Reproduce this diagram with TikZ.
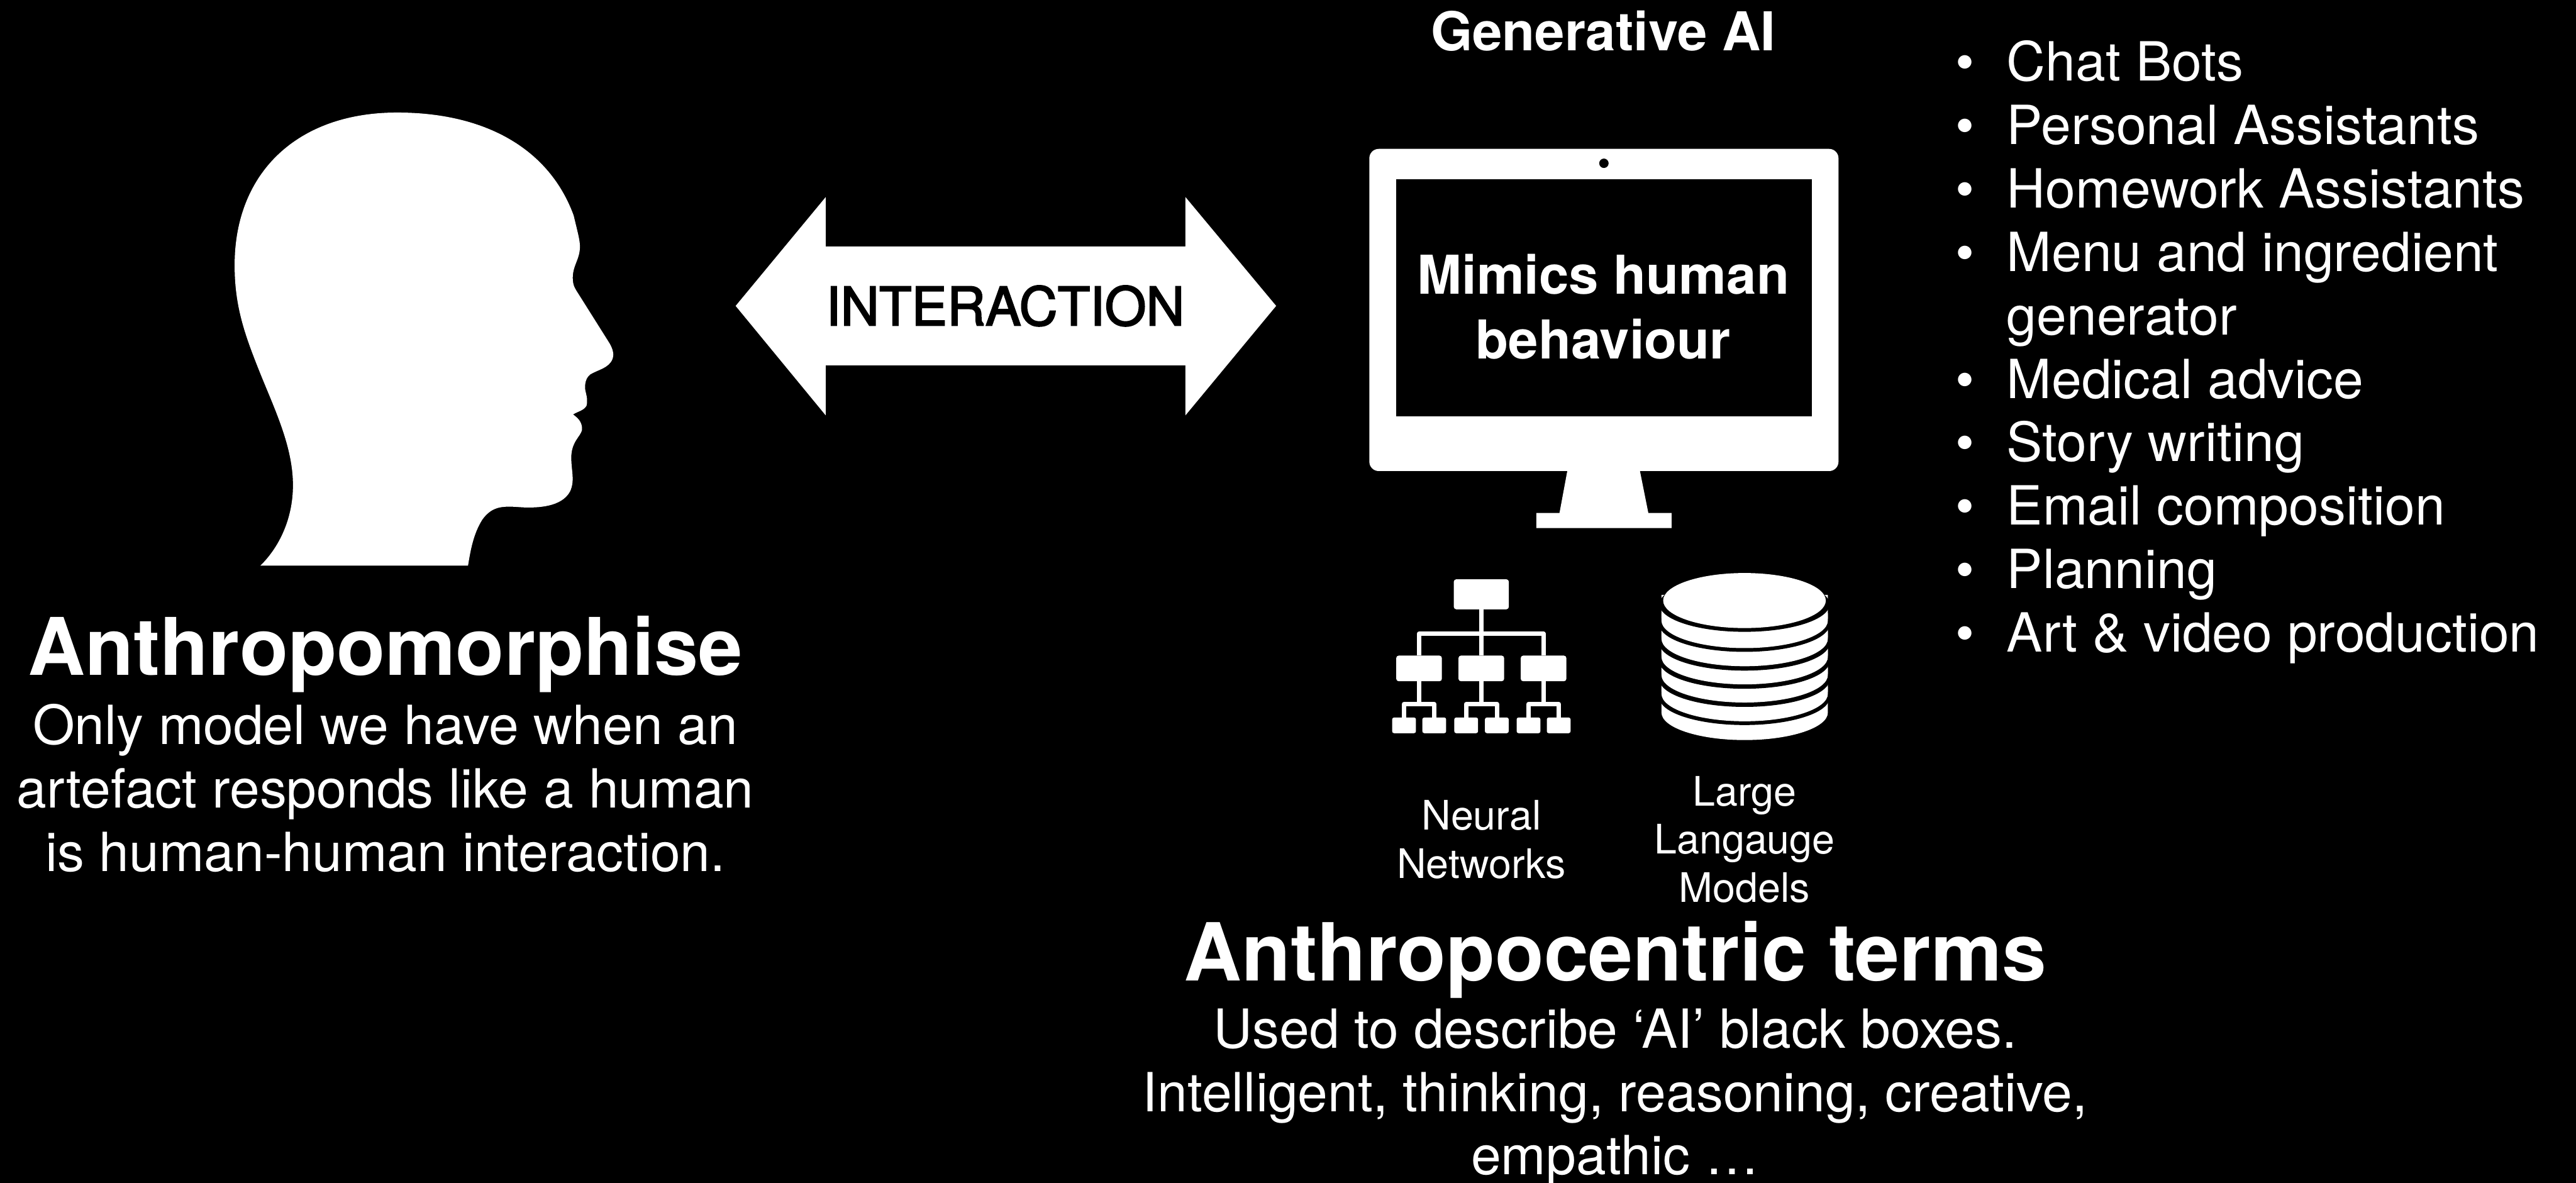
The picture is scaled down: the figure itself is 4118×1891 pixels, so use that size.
\documentclass[tikz,border=0pt]{standalone}
\usepackage{fontspec}
\setmainfont{TeX Gyre Heros}
\newfontfamily\medfont[FakeBold=2.5]{TeX Gyre Heros}
\tikzset{
  txt/.style={text=white,inner sep=0pt,outer sep=0pt,anchor=base,align=center},
  body/.style={txt,font=\fontsize{86.3}{101.4}\selectfont},
  bold/.style={txt,font=\fontsize{85.6}{104}\bfseries\selectfont},
  heading/.style={txt,font=\fontsize{127}{150}\bfseries\selectfont},
  small/.style={txt,font=\fontsize{65}{77}\selectfont},
  rootbox/.style={fill=white,rounded corners=4pt,inner sep=0pt,outer sep=0pt,minimum width=88pt,minimum height=48pt},
  midbox/.style={rootbox,minimum width=73pt,minimum height=41pt},
  leafbox/.style={rootbox,minimum width=38pt,minimum height=25pt,rounded corners=3pt},
  wire/.style={draw=white,line width=7pt},
}
\begin{document}
\begin{tikzpicture}[x=1pt,y=-1pt]
\fill[black] (0,0) rectangle (4118,1891);
\useasboundingbox (0,0) rectangle (4118,1891);
% head
\begin{scope}[shift={(300,150)},xscale=0.4783,yscale=0.4985]
\fill[white] (243,1513) .. controls (300,1460) and (352,1370) .. (352,1255)
 .. controls (352,1130) and (290,1010) .. (240,890)
 .. controls (190,770) and (157,680) .. (157,550)
 .. controls (157,250) and (370,60) .. (700,60)
 .. controls (1000,60) and (1210,180) .. (1290,390)
 .. controls (1305,450) and (1311,470) .. (1311,490)
 .. controls (1311,530) and (1287,550) .. (1287,590)
 .. controls (1287,615) and (1295,625) .. (1305,640)
 -- (1410,800)
 .. controls (1422,820) and (1425,835) .. (1420,850)
 .. controls (1408,880) and (1370,885) .. (1345,900)
 .. controls (1325,915) and (1327,945) .. (1330,955)
 .. controls (1335,975) and (1337,985) .. (1333,1000)
 .. controls (1325,1015) and (1305,1018) .. (1288,1028)
 .. controls (1300,1037) and (1320,1050) .. (1318,1078)
 .. controls (1312,1100) and (1283,1115) .. (1282,1165)
 .. controls (1282,1210) and (1295,1240) .. (1278,1275)
 .. controls (1250,1325) and (1170,1328) .. (1120,1326)
 .. controls (1060,1322) and (1020,1318) .. (985,1365)
 .. controls (955,1410) and (945,1465) .. (937,1513) -- cycle;
\end{scope}
% double arrow
\fill[white] (1176,489) -- (1320,315) -- (1320,394) -- (1895,394) -- (1895,315)
  -- (2040,489) -- (1895,664) -- (1895,584) -- (1320,584) -- (1320,664) -- cycle;
\node[txt,text=black,font=\fontsize{85}{100}\medfont] (interaction) at (1607,520) {INTERACTION};
% monitor
\fill[white,rounded corners=15pt] (2189,238) rectangle (2939,753);
\fill[black] (2232,287) rectangle (2896,666);
\fill[black] (2564,261) circle (7.5);
\fill[white] (2506,750) -- (2621,750) -- (2635,820) -- (2672,820) -- (2672,844) -- (2456,844) -- (2456,820) -- (2493,820) -- cycle;
\node[bold] (mimics) at (2563,574) {Mimics human\\behaviour};
\node[bold] (genai) at (2563,81) {Generative AI};
% network
\node[rootbox] (root) at (2368,950) {};
\foreach \n/\x in {m1/2268.5,m2/2368,m3/2467.5}
  \node[midbox] (\n) at (\x,1068.5) {};
\foreach \n/\x in {l1/2244.5,l2/2292.8,l3/2343.8,l4/2392.8,l5/2443.5,l6/2491.7}
  \node[leafbox] (\n) at (\x,1159.5) {};
\draw[wire] (root.south) -- (m2.north);
\coordinate (busa) at (2368,1013);
\coordinate (busb) at (2368,1125.5);
\draw[wire,line join=round] (m1.north) -- (m1.north |- busa) -- (m3.north |- busa) -- (m3.north);
\draw[wire] (m1.south) -- (m1.south |- busb);
\draw[wire] (m2.south) -- (m2.south |- busb);
\draw[wire] (m3.south) -- (m3.south |- busb);
\draw[wire,line join=round] (l1.north) -- (l1.north |- busb) -- (l2.north |- busb) -- (l2.north);
\draw[wire,line join=round] (l3.north) -- (l3.north |- busb) -- (l4.north |- busb) -- (l4.north);
\draw[wire,line join=round] (l5.north) -- (l5.north |- busb) -- (l6.north |- busb) -- (l6.north);
% database
\foreach \w/\k in {1183/1159,1153/1130,1123/1101,1094/1072,1065/1042,1036/1010}{
  \fill[white] (2656,\w-85) -- (2656,\w-44) arc[start angle=180,delta angle=180,x radius=133,y radius=-44] -- (2922,\w-85) -- cycle;
  \fill[black] (2788.7,\k-44) ellipse [x radius=136,y radius=44];
}
\fill[white] (2788.7,960) ellipse [x radius=130,y radius=44];
% labels
\node[small] (nn) at (2368,1404) {Neural\\Networks};
\node[small] (llm) at (2789,1442) {Large\\Langauge\\Models};
\node[heading] (anth1) at (616,1079) {Anthropomorphise};
\node[body] (anth1b) at (616,1393) {Only model we have when an\\artefact responds like a human\\is human-human interaction.};
\node[heading,font=\fontsize{128}{150}\bfseries\selectfont] (anth2) at (2582,1568) {Anthropocentric terms};
\node[body] (anth2b) at (2582,1878) {Used to describe ‘AI’ black boxes.\\Intelligent, thinking, reasoning, creative,\\empathic …};
% list
\node[body,align=left,anchor=base west] (bul) at (3126,1042) {•\\•\\•\\•\\\strut\\•\\•\\•\\•\\•};
\node[body,align=left,anchor=base west] (lst) at (3208,1042) {Chat Bots\\Personal Assistants\\Homework Assistants\\Menu and ingredient\\generator\\Medical advice\\Story writing\\Email composition\\Planning\\Art \& video production};
\end{tikzpicture}
\end{document}
